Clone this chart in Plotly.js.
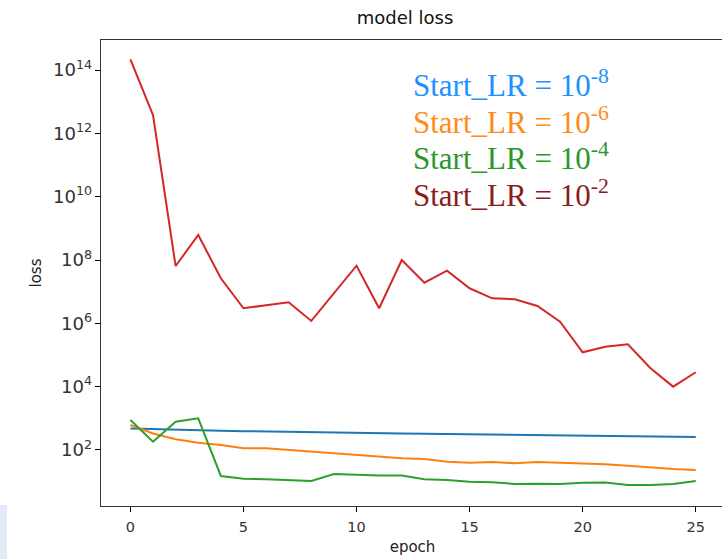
<!DOCTYPE html>
<html>
<head>
<meta charset="utf-8">
<script src="https://cdn.plot.ly/plotly-3.0.1.min.js"></script>
<style>
  html, body { margin: 0; padding: 0; background: #fff; overflow: hidden; width: 722px; height: 559px; }
  #chart { position: absolute; left: 0; top: 0; width: 730px; height: 559px; }
  #strip { position: absolute; left: 0; top: 505px; width: 7px; height: 54px; background: #e4e9f8; }
</style>
</head>
<body>
<div id="chart"></div>
<div id="strip"></div>
<script>
const epochs = Array.from({length: 26}, (_, i) => i);

const lossLR8 = [478, 454, 435, 419, 404, 393, 381, 370, 362, 354, 347, 339, 332, 327, 320, 316, 308, 304, 298, 293, 287, 283, 277, 271, 265, 257];
const lossLR6 = [615, 332, 218, 170, 144, 113, 113, 100, 84.5, 78.7, 69.5, 58.9, 54.7, 52.0, 42.8, 39.7, 41.8, 38.0, 41.8, 39.7, 38.0, 35.3, 31.9, 27.6, 25.1, 23.3];
const lossLR4 = [885, 183, 783, 1002, 15.1, 12.4, 11.9, 11.3, 10.5, 17.5, 16.3, 15.5, 15.5, 11.9, 11.3, 9.98, 9.55, 8.43, 8.63, 8.43, 9.27, 9.42, 7.85, 7.85, 8.43, 10.5];
const lossLR2 = [2.18e14, 3.79e12, 6.47e7, 6.17e8, 2.65e7, 2.99e6, 3.72e6, 4.62e6, 1.19e6, 9.1e6, 6.62e7, 2.99e6, 1.0e8, 1.92e7, 4.6e7, 1.28e7, 6.18e6, 5.75e6, 3.53e6, 1.13e6, 1.22e5, 1.83e5, 2.18e5, 3.81e4, 1.0e4, 2.85e4];

const seriesNames = ['Start_LR = 1e-8', 'Start_LR = 1e-6', 'Start_LR = 1e-4', 'Start_LR = 1e-2'];
const labelTexts = ['Start_LR = 10<sup>-8</sup>', 'Start_LR = 10<sup>-6</sup>', 'Start_LR = 10<sup>-4</sup>', 'Start_LR = 10<sup>-2</sup>'];
const lineColors = ['#1f77b4', '#ff7f0e', '#2ca02c', '#d62728'];
const labelColors = ['#1e90ff', '#ff8c1a', '#2a972a', '#8b1c1c'];
const series = [lossLR8, lossLR6, lossLR4, lossLR2];

const traces = series.map((ys, i) => ({
  x: epochs, y: ys, type: 'scatter', mode: 'lines', name: seriesNames[i],
  line: {color: lineColors[i], width: 2}
}));

const labelY = [0.906, 0.827, 0.749, 0.671];
const annotations = labelTexts.map((t, i) => ({
  text: t, xref: 'paper', yref: 'paper', x: 0.497, y: labelY[i],
  xanchor: 'left', yanchor: 'middle', showarrow: false,
  font: {family: 'Liberation Serif, Times New Roman, serif', size: 31, color: labelColors[i]}
}));

const axisCommon = {
  showline: true, linecolor: '#333', linewidth: 1, mirror: true,
  ticks: 'outside', ticklen: 5, tickcolor: '#000', tickwidth: 1,
  showgrid: false, zeroline: false,
  tickfont: {family: 'DejaVu Sans', size: 14.5, color: '#333'}
};

const layout = {
  width: 730, height: 559,
  margin: {l: 101, r: 6, t: 40, b: 53},
  paper_bgcolor: '#fff', plot_bgcolor: '#fff',
  showlegend: false,
  font: {family: 'DejaVu Sans', color: '#222'},
  title: {text: 'model loss', font: {family: 'DejaVu Sans', size: 18, color: '#111'},
          xref: 'paper', x: 0.488, xanchor: 'center', yref: 'container', y: 0.968, yanchor: 'middle'},
  xaxis: Object.assign({}, axisCommon, {
    range: [-1.3, 26.25], tick0: 0, dtick: 5, ticklabelstandoff: 3,
    title: {text: 'epoch', font: {family: 'DejaVu Sans', size: 15, color: '#222'}, standoff: 7}
  }),
  yaxis: Object.assign({}, axisCommon, {
    type: 'log', range: [0.23, 14.95], tick0: 0, dtick: 2, exponentformat: 'power',
    title: {text: 'loss', font: {family: 'DejaVu Sans', size: 15, color: '#222'}, standoff: 7}
  }),
  annotations: annotations
};

Plotly.newPlot('chart', traces, layout, {staticPlot: true, displayModeBar: false});
</script>
</body>
</html>
